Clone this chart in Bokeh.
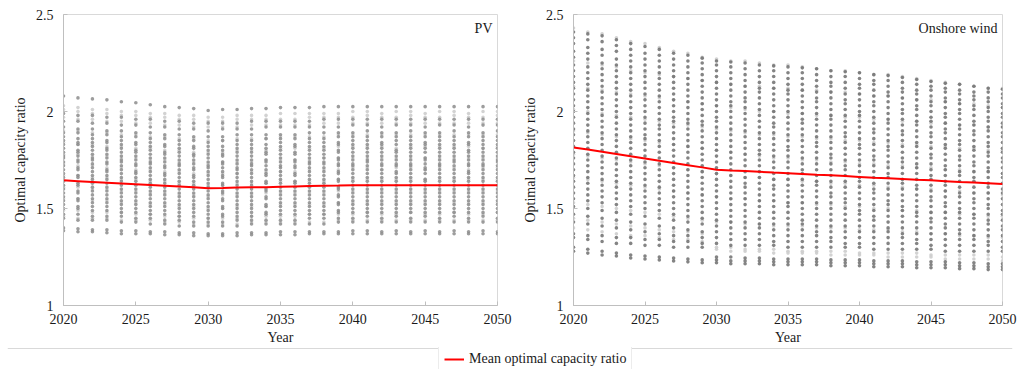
from bokeh.plotting import figure
from bokeh.models import Range1d, FixedTicker, Label, Span, Legend, LegendItem, ColumnDataSource
from bokeh.layouts import column, row
from bokeh.embed import file_html
from bokeh.resources import INLINE

# ---------------------------------------------------------------- data
years = list(range(2020, 2051))
year_ticks = [2020, 2025, 2030, 2035, 2040, 2045, 2050]
ratio_ticks = [1, 1.5, 2, 2.5]
ratio_tick_labels = ["1", "1.5", "2", "2.5"]

# Mean optimal capacity ratio per year
pv_mean = [1.645, 1.641, 1.637, 1.633, 1.629, 1.625, 1.621, 1.617, 1.613, 1.609,
           1.605, 1.606, 1.608, 1.609, 1.610, 1.612, 1.614, 1.616, 1.617, 1.618,
           1.620, 1.620, 1.620, 1.620, 1.620, 1.620, 1.620, 1.620, 1.620, 1.620, 1.620]
wind_mean = [1.815, 1.804, 1.792, 1.781, 1.769, 1.758, 1.746, 1.735, 1.723, 1.712,
             1.700, 1.696, 1.693, 1.689, 1.685, 1.682, 1.678, 1.674, 1.671, 1.667,
             1.663, 1.659, 1.656, 1.652, 1.648, 1.645, 1.641, 1.637, 1.634, 1.630, 1.626]

# Scenario results per year (dark = main scenario set, light = sensitivity runs)
pv_dark = [
    [2.08, 1.99, 1.95, 1.92, 1.89, 1.87, 1.85, 1.83, 1.81, 1.79, 1.77, 1.76, 1.74, 1.72, 1.70, 1.68, 1.66, 1.64, 1.62, 1.60, 1.58, 1.56, 1.54, 1.52, 1.50, 1.47, 1.45, 1.40, 1.385],
    [2.07, 1.98, 1.95, 1.91, 1.89, 1.86, 1.84, 1.83, 1.80, 1.79, 1.77, 1.75, 1.74, 1.71, 1.70, 1.67, 1.66, 1.63, 1.62, 1.59, 1.58, 1.55, 1.54, 1.51, 1.50, 1.47, 1.44, 1.395, 1.38],
    [2.065, 1.98, 1.94, 1.91, 1.88, 1.86, 1.84, 1.82, 1.80, 1.78, 1.76, 1.75, 1.73, 1.71, 1.69, 1.67, 1.65, 1.63, 1.61, 1.59, 1.57, 1.55, 1.53, 1.51, 1.49, 1.46, 1.44, 1.39, 1.38],
    [2.06, 1.97, 1.94, 1.90, 1.88, 1.85, 1.84, 1.81, 1.80, 1.78, 1.76, 1.74, 1.73, 1.70, 1.69, 1.67, 1.65, 1.63, 1.61, 1.59, 1.57, 1.55, 1.53, 1.51, 1.49, 1.46, 1.44, 1.39, 1.375],
    [2.05, 1.97, 1.93, 1.90, 1.87, 1.85, 1.83, 1.81, 1.79, 1.77, 1.75, 1.74, 1.72, 1.70, 1.68, 1.66, 1.64, 1.62, 1.60, 1.58, 1.56, 1.54, 1.52, 1.50, 1.48, 1.46, 1.43, 1.385, 1.37],
    [2.045, 1.96, 1.93, 1.89, 1.87, 1.84, 1.83, 1.80, 1.79, 1.77, 1.75, 1.73, 1.72, 1.69, 1.68, 1.66, 1.64, 1.62, 1.60, 1.58, 1.56, 1.54, 1.52, 1.50, 1.48, 1.45, 1.43, 1.385, 1.37],
    [2.035, 1.96, 1.92, 1.89, 1.86, 1.84, 1.82, 1.80, 1.78, 1.76, 1.74, 1.73, 1.71, 1.69, 1.67, 1.65, 1.63, 1.61, 1.59, 1.57, 1.55, 1.53, 1.51, 1.49, 1.47, 1.45, 1.42, 1.38, 1.37],
    [2.025, 1.95, 1.92, 1.88, 1.86, 1.83, 1.82, 1.79, 1.78, 1.76, 1.74, 1.72, 1.71, 1.68, 1.67, 1.65, 1.63, 1.61, 1.59, 1.57, 1.55, 1.53, 1.51, 1.49, 1.47, 1.44, 1.42, 1.38, 1.365],
    [2.02, 1.95, 1.91, 1.88, 1.85, 1.83, 1.81, 1.79, 1.77, 1.75, 1.73, 1.72, 1.70, 1.68, 1.66, 1.64, 1.62, 1.60, 1.58, 1.56, 1.54, 1.52, 1.50, 1.48, 1.46, 1.44, 1.41, 1.375, 1.365],
    [2.015, 1.94, 1.91, 1.87, 1.85, 1.82, 1.81, 1.78, 1.77, 1.75, 1.73, 1.71, 1.70, 1.67, 1.66, 1.64, 1.62, 1.60, 1.58, 1.56, 1.54, 1.52, 1.50, 1.48, 1.46, 1.43, 1.41, 1.375, 1.36],
    [2.005, 1.94, 1.90, 1.87, 1.84, 1.82, 1.80, 1.78, 1.76, 1.74, 1.72, 1.71, 1.69, 1.67, 1.65, 1.63, 1.61, 1.59, 1.57, 1.55, 1.53, 1.51, 1.49, 1.47, 1.45, 1.43, 1.41, 1.37, 1.36],
    [2.01, 1.94, 1.91, 1.87, 1.85, 1.82, 1.80, 1.78, 1.77, 1.74, 1.73, 1.71, 1.69, 1.67, 1.66, 1.63, 1.62, 1.59, 1.58, 1.55, 1.54, 1.51, 1.50, 1.47, 1.46, 1.43, 1.41, 1.37, 1.36],
    [2.01, 1.94, 1.91, 1.88, 1.85, 1.83, 1.81, 1.79, 1.77, 1.75, 1.73, 1.71, 1.70, 1.68, 1.66, 1.64, 1.62, 1.60, 1.58, 1.56, 1.54, 1.52, 1.50, 1.48, 1.46, 1.44, 1.41, 1.375, 1.36],
    [2.015, 1.95, 1.91, 1.88, 1.85, 1.83, 1.81, 1.79, 1.77, 1.75, 1.73, 1.72, 1.70, 1.68, 1.66, 1.64, 1.62, 1.60, 1.58, 1.56, 1.54, 1.52, 1.50, 1.48, 1.46, 1.44, 1.42, 1.375, 1.365],
    [2.015, 1.95, 1.92, 1.88, 1.86, 1.83, 1.81, 1.79, 1.78, 1.75, 1.74, 1.72, 1.70, 1.68, 1.67, 1.64, 1.63, 1.60, 1.59, 1.56, 1.55, 1.52, 1.51, 1.48, 1.47, 1.44, 1.42, 1.375, 1.365],
    [2.02, 1.95, 1.92, 1.88, 1.86, 1.84, 1.82, 1.80, 1.78, 1.76, 1.74, 1.72, 1.71, 1.69, 1.67, 1.65, 1.63, 1.61, 1.59, 1.57, 1.55, 1.53, 1.51, 1.49, 1.47, 1.44, 1.42, 1.38, 1.365],
    [2.02, 1.95, 1.92, 1.88, 1.86, 1.83, 1.82, 1.79, 1.78, 1.75, 1.74, 1.72, 1.71, 1.68, 1.67, 1.64, 1.63, 1.61, 1.59, 1.57, 1.55, 1.53, 1.51, 1.49, 1.47, 1.44, 1.42, 1.38, 1.365],
    [2.02, 1.95, 1.92, 1.89, 1.86, 1.84, 1.82, 1.80, 1.78, 1.76, 1.74, 1.73, 1.71, 1.69, 1.67, 1.65, 1.63, 1.61, 1.59, 1.57, 1.55, 1.53, 1.51, 1.49, 1.47, 1.45, 1.42, 1.38, 1.37],
    [2.025, 1.96, 1.92, 1.89, 1.86, 1.84, 1.82, 1.80, 1.78, 1.76, 1.74, 1.73, 1.71, 1.69, 1.67, 1.65, 1.63, 1.61, 1.59, 1.57, 1.55, 1.53, 1.51, 1.49, 1.47, 1.45, 1.42, 1.38, 1.37],
    [2.025, 1.96, 1.92, 1.89, 1.87, 1.84, 1.83, 1.80, 1.79, 1.76, 1.75, 1.73, 1.72, 1.69, 1.68, 1.65, 1.64, 1.61, 1.60, 1.57, 1.56, 1.53, 1.52, 1.49, 1.48, 1.45, 1.43, 1.38, 1.37],
    [2.025, 1.96, 1.93, 1.89, 1.87, 1.85, 1.83, 1.81, 1.79, 1.77, 1.75, 1.73, 1.72, 1.70, 1.68, 1.66, 1.64, 1.62, 1.60, 1.58, 1.56, 1.54, 1.52, 1.50, 1.48, 1.45, 1.43, 1.385, 1.37],
    [2.025, 1.96, 1.93, 1.90, 1.87, 1.85, 1.83, 1.81, 1.79, 1.77, 1.75, 1.74, 1.72, 1.70, 1.68, 1.66, 1.64, 1.62, 1.60, 1.58, 1.56, 1.54, 1.52, 1.50, 1.48, 1.46, 1.43, 1.385, 1.37],
    [2.025, 1.96, 1.92, 1.89, 1.87, 1.84, 1.83, 1.81, 1.79, 1.77, 1.75, 1.73, 1.72, 1.70, 1.68, 1.66, 1.64, 1.62, 1.60, 1.58, 1.56, 1.54, 1.52, 1.50, 1.48, 1.45, 1.43, 1.38, 1.37],
    [2.025, 1.96, 1.93, 1.89, 1.87, 1.85, 1.83, 1.80, 1.79, 1.77, 1.75, 1.73, 1.72, 1.69, 1.68, 1.66, 1.64, 1.62, 1.60, 1.58, 1.56, 1.54, 1.52, 1.50, 1.48, 1.46, 1.43, 1.385, 1.37],
    [2.025, 1.96, 1.93, 1.90, 1.87, 1.85, 1.83, 1.81, 1.79, 1.77, 1.75, 1.73, 1.72, 1.70, 1.68, 1.66, 1.64, 1.62, 1.60, 1.58, 1.56, 1.54, 1.52, 1.50, 1.48, 1.45, 1.43, 1.38, 1.37],
    [2.025, 1.96, 1.92, 1.89, 1.87, 1.84, 1.83, 1.81, 1.79, 1.76, 1.75, 1.73, 1.71, 1.70, 1.68, 1.65, 1.64, 1.62, 1.60, 1.58, 1.56, 1.54, 1.52, 1.50, 1.48, 1.46, 1.43, 1.385, 1.37],
    [2.025, 1.96, 1.93, 1.89, 1.87, 1.85, 1.83, 1.81, 1.79, 1.77, 1.75, 1.73, 1.72, 1.70, 1.68, 1.66, 1.64, 1.62, 1.60, 1.58, 1.56, 1.54, 1.52, 1.50, 1.48, 1.45, 1.43, 1.38, 1.37],
    [2.025, 1.96, 1.93, 1.90, 1.87, 1.85, 1.83, 1.81, 1.79, 1.77, 1.75, 1.74, 1.72, 1.70, 1.68, 1.66, 1.64, 1.62, 1.60, 1.58, 1.56, 1.54, 1.52, 1.50, 1.48, 1.46, 1.43, 1.385, 1.37],
    [2.025, 1.96, 1.92, 1.89, 1.87, 1.84, 1.83, 1.80, 1.79, 1.77, 1.75, 1.73, 1.72, 1.69, 1.68, 1.66, 1.64, 1.62, 1.60, 1.58, 1.56, 1.54, 1.52, 1.50, 1.48, 1.45, 1.43, 1.38, 1.37],
    [2.025, 1.96, 1.93, 1.89, 1.87, 1.85, 1.83, 1.81, 1.79, 1.77, 1.75, 1.73, 1.72, 1.70, 1.68, 1.66, 1.64, 1.62, 1.60, 1.58, 1.56, 1.54, 1.52, 1.50, 1.48, 1.46, 1.43, 1.385, 1.37],
    [2.025, 1.96, 1.93, 1.90, 1.87, 1.85, 1.83, 1.81, 1.79, 1.77, 1.75, 1.74, 1.72, 1.70, 1.68, 1.66, 1.64, 1.62, 1.60, 1.58, 1.56, 1.54, 1.52, 1.50, 1.48, 1.45, 1.43, 1.38, 1.37],
]
pv_light = [
    [2.03, 2.01, 1.97, 1.90, 1.84, 1.78, 1.73, 1.67, 1.61, 1.55, 1.49, 1.46],
    [2.02, 2.00, 1.96, 1.90, 1.83, 1.78, 1.72, 1.67, 1.61, 1.55, 1.49, 1.45],
    [2.01, 1.99, 1.96, 1.89, 1.83, 1.77, 1.72, 1.66, 1.60, 1.54, 1.48, 1.45],
    [2.01, 1.99, 1.95, 1.89, 1.82, 1.77, 1.71, 1.66, 1.60, 1.54, 1.48, 1.45],
    [2.00, 1.98, 1.95, 1.88, 1.82, 1.76, 1.71, 1.65, 1.59, 1.53, 1.48, 1.44],
    [2.00, 1.98, 1.94, 1.88, 1.81, 1.76, 1.70, 1.65, 1.59, 1.53, 1.47, 1.44],
    [1.99, 1.97, 1.94, 1.87, 1.81, 1.75, 1.70, 1.64, 1.58, 1.52, 1.47, 1.44],
    [1.99, 1.97, 1.93, 1.87, 1.80, 1.75, 1.69, 1.64, 1.58, 1.52, 1.46, 1.43],
    [1.98, 1.96, 1.93, 1.86, 1.80, 1.74, 1.69, 1.63, 1.57, 1.51, 1.46, 1.43],
    [1.98, 1.96, 1.92, 1.86, 1.79, 1.74, 1.68, 1.63, 1.57, 1.51, 1.45, 1.42],
    [1.97, 1.95, 1.92, 1.85, 1.79, 1.73, 1.68, 1.62, 1.56, 1.50, 1.45, 1.42],
    [1.97, 1.95, 1.92, 1.85, 1.79, 1.74, 1.68, 1.62, 1.57, 1.50, 1.45, 1.42],
    [1.98, 1.96, 1.92, 1.86, 1.80, 1.74, 1.68, 1.63, 1.57, 1.51, 1.45, 1.42],
    [1.98, 1.96, 1.93, 1.86, 1.80, 1.74, 1.69, 1.63, 1.57, 1.51, 1.46, 1.43],
    [1.98, 1.96, 1.93, 1.86, 1.80, 1.75, 1.69, 1.63, 1.58, 1.51, 1.46, 1.43],
    [1.99, 1.96, 1.93, 1.87, 1.81, 1.75, 1.69, 1.64, 1.58, 1.52, 1.46, 1.43],
    [1.99, 1.96, 1.93, 1.87, 1.81, 1.75, 1.69, 1.64, 1.58, 1.52, 1.46, 1.43],
    [1.99, 1.97, 1.93, 1.87, 1.81, 1.75, 1.70, 1.64, 1.58, 1.52, 1.47, 1.43],
    [1.99, 1.97, 1.94, 1.87, 1.81, 1.76, 1.70, 1.64, 1.58, 1.52, 1.47, 1.43],
    [1.99, 1.97, 1.94, 1.88, 1.82, 1.76, 1.70, 1.65, 1.59, 1.53, 1.47, 1.44],
    [2.00, 1.97, 1.94, 1.88, 1.82, 1.76, 1.71, 1.65, 1.59, 1.53, 1.47, 1.44],
    [2.00, 1.98, 1.94, 1.88, 1.82, 1.76, 1.71, 1.65, 1.59, 1.53, 1.48, 1.44],
    [1.99, 1.97, 1.94, 1.88, 1.82, 1.76, 1.70, 1.65, 1.59, 1.53, 1.47, 1.44],
    [2.00, 1.97, 1.94, 1.88, 1.81, 1.76, 1.71, 1.65, 1.59, 1.53, 1.47, 1.44],
    [2.00, 1.98, 1.94, 1.88, 1.82, 1.76, 1.71, 1.65, 1.59, 1.53, 1.48, 1.44],
    [1.99, 1.97, 1.94, 1.88, 1.82, 1.76, 1.70, 1.65, 1.59, 1.53, 1.47, 1.44],
    [2.00, 1.97, 1.94, 1.88, 1.82, 1.76, 1.71, 1.65, 1.59, 1.53, 1.47, 1.44],
    [2.00, 1.98, 1.94, 1.88, 1.82, 1.76, 1.71, 1.65, 1.59, 1.53, 1.48, 1.44],
    [1.99, 1.97, 1.94, 1.88, 1.82, 1.76, 1.70, 1.65, 1.59, 1.53, 1.47, 1.44],
    [2.00, 1.97, 1.94, 1.88, 1.81, 1.76, 1.71, 1.65, 1.59, 1.53, 1.47, 1.44],
    [2.00, 1.98, 1.94, 1.88, 1.82, 1.76, 1.71, 1.65, 1.59, 1.53, 1.48, 1.44],
]

wind_dark = [
    [2.41, 2.38, 2.35, 2.31, 2.28, 2.24, 2.21, 2.18, 2.15, 2.12, 2.09, 2.06, 2.03, 2.00, 1.97, 1.94, 1.91, 1.88, 1.85, 1.82, 1.79, 1.76, 1.73, 1.70, 1.67, 1.64, 1.61, 1.58, 1.55, 1.51, 1.47, 1.43, 1.37, 1.35, 1.30, 1.28],
    [2.40, 2.37, 2.33, 2.30, 2.27, 2.23, 2.20, 2.17, 2.14, 2.11, 2.08, 2.05, 2.02, 1.99, 1.96, 1.93, 1.90, 1.87, 1.84, 1.81, 1.78, 1.75, 1.72, 1.69, 1.66, 1.63, 1.60, 1.57, 1.54, 1.50, 1.46, 1.42, 1.36, 1.34, 1.29, 1.27],
    [2.39, 2.36, 2.32, 2.29, 2.25, 2.22, 2.19, 2.16, 2.13, 2.10, 2.07, 2.04, 2.01, 1.98, 1.95, 1.92, 1.89, 1.86, 1.83, 1.80, 1.77, 1.74, 1.71, 1.68, 1.65, 1.62, 1.59, 1.56, 1.53, 1.49, 1.45, 1.41, 1.36, 1.33, 1.28, 1.26],
    [2.37, 2.34, 2.31, 2.27, 2.24, 2.21, 2.18, 2.15, 2.12, 2.09, 2.06, 2.03, 2.00, 1.97, 1.94, 1.91, 1.88, 1.85, 1.82, 1.79, 1.76, 1.73, 1.70, 1.67, 1.64, 1.61, 1.58, 1.55, 1.52, 1.48, 1.44, 1.40, 1.35, 1.32, 1.27, 1.255],
    [2.35, 2.32, 2.29, 2.26, 2.23, 2.20, 2.17, 2.14, 2.11, 2.08, 2.05, 2.02, 1.99, 1.96, 1.93, 1.90, 1.87, 1.84, 1.81, 1.78, 1.75, 1.72, 1.69, 1.66, 1.63, 1.60, 1.57, 1.54, 1.51, 1.47, 1.43, 1.39, 1.35, 1.32, 1.26, 1.245],
    [2.335, 2.30, 2.27, 2.24, 2.21, 2.18, 2.15, 2.12, 2.09, 2.06, 2.03, 2.00, 1.97, 1.94, 1.91, 1.88, 1.86, 1.83, 1.80, 1.77, 1.74, 1.71, 1.68, 1.65, 1.62, 1.59, 1.56, 1.53, 1.50, 1.46, 1.42, 1.38, 1.34, 1.31, 1.255, 1.24],
    [2.32, 2.29, 2.26, 2.23, 2.20, 2.17, 2.14, 2.11, 2.08, 2.05, 2.02, 1.99, 1.96, 1.93, 1.91, 1.88, 1.85, 1.82, 1.79, 1.76, 1.73, 1.70, 1.67, 1.64, 1.61, 1.58, 1.55, 1.52, 1.49, 1.45, 1.41, 1.37, 1.34, 1.31, 1.25, 1.235],
    [2.30, 2.27, 2.24, 2.21, 2.18, 2.15, 2.12, 2.09, 2.06, 2.03, 2.00, 1.97, 1.95, 1.92, 1.89, 1.86, 1.83, 1.80, 1.77, 1.74, 1.71, 1.68, 1.65, 1.62, 1.59, 1.56, 1.53, 1.50, 1.47, 1.44, 1.40, 1.36, 1.33, 1.30, 1.245, 1.23],
    [2.29, 2.26, 2.23, 2.20, 2.17, 2.14, 2.11, 2.08, 2.05, 2.02, 1.99, 1.96, 1.94, 1.91, 1.88, 1.85, 1.82, 1.79, 1.76, 1.73, 1.70, 1.67, 1.64, 1.61, 1.58, 1.55, 1.52, 1.49, 1.46, 1.43, 1.39, 1.36, 1.33, 1.30, 1.24, 1.225],
    [2.275, 2.25, 2.22, 2.19, 2.16, 2.13, 2.10, 2.07, 2.04, 2.01, 1.98, 1.95, 1.93, 1.90, 1.87, 1.84, 1.81, 1.78, 1.75, 1.72, 1.69, 1.66, 1.63, 1.60, 1.57, 1.54, 1.51, 1.48, 1.45, 1.42, 1.38, 1.35, 1.32, 1.30, 1.235, 1.22],
    [2.26, 2.24, 2.21, 2.18, 2.15, 2.12, 2.09, 2.06, 2.03, 2.00, 1.97, 1.95, 1.92, 1.89, 1.86, 1.83, 1.80, 1.77, 1.74, 1.71, 1.68, 1.65, 1.62, 1.59, 1.56, 1.53, 1.50, 1.47, 1.44, 1.41, 1.38, 1.35, 1.32, 1.25, 1.235, 1.22],
    [2.255, 2.23, 2.20, 2.17, 2.14, 2.11, 2.08, 2.05, 2.03, 2.00, 1.97, 1.94, 1.91, 1.88, 1.85, 1.82, 1.79, 1.76, 1.73, 1.70, 1.67, 1.64, 1.61, 1.58, 1.55, 1.52, 1.49, 1.46, 1.43, 1.40, 1.37, 1.34, 1.31, 1.25, 1.23, 1.215],
    [2.25, 2.22, 2.19, 2.16, 2.13, 2.10, 2.07, 2.05, 2.02, 1.99, 1.96, 1.93, 1.90, 1.87, 1.84, 1.81, 1.78, 1.75, 1.72, 1.69, 1.66, 1.63, 1.61, 1.58, 1.55, 1.52, 1.49, 1.46, 1.43, 1.40, 1.37, 1.34, 1.31, 1.245, 1.23, 1.215],
    [2.24, 2.21, 2.18, 2.15, 2.12, 2.10, 2.07, 2.04, 2.01, 1.98, 1.95, 1.92, 1.89, 1.86, 1.83, 1.80, 1.78, 1.75, 1.72, 1.69, 1.66, 1.63, 1.60, 1.57, 1.54, 1.51, 1.48, 1.45, 1.42, 1.40, 1.37, 1.34, 1.31, 1.245, 1.23, 1.215],
    [2.235, 2.21, 2.18, 2.15, 2.12, 2.09, 2.06, 2.03, 2.00, 1.97, 1.94, 1.92, 1.89, 1.86, 1.83, 1.80, 1.77, 1.74, 1.71, 1.68, 1.65, 1.62, 1.60, 1.57, 1.54, 1.51, 1.48, 1.45, 1.42, 1.39, 1.36, 1.33, 1.31, 1.24, 1.225, 1.21],
    [2.23, 2.20, 2.17, 2.14, 2.11, 2.09, 2.06, 2.03, 2.00, 1.97, 1.94, 1.91, 1.88, 1.85, 1.82, 1.80, 1.77, 1.74, 1.71, 1.68, 1.65, 1.62, 1.59, 1.56, 1.53, 1.51, 1.48, 1.45, 1.42, 1.39, 1.36, 1.33, 1.30, 1.24, 1.225, 1.21],
    [2.225, 2.20, 2.17, 2.14, 2.11, 2.08, 2.05, 2.02, 1.99, 1.96, 1.94, 1.91, 1.88, 1.85, 1.82, 1.79, 1.76, 1.73, 1.70, 1.68, 1.65, 1.62, 1.59, 1.56, 1.53, 1.50, 1.47, 1.44, 1.42, 1.39, 1.36, 1.33, 1.30, 1.24, 1.225, 1.21],
    [2.22, 2.19, 2.16, 2.13, 2.10, 2.07, 2.05, 2.02, 1.99, 1.96, 1.93, 1.90, 1.87, 1.84, 1.82, 1.79, 1.76, 1.73, 1.70, 1.67, 1.64, 1.62, 1.59, 1.56, 1.53, 1.50, 1.47, 1.44, 1.41, 1.38, 1.36, 1.33, 1.30, 1.24, 1.225, 1.21],
    [2.21, 2.18, 2.15, 2.13, 2.10, 2.07, 2.04, 2.01, 1.98, 1.96, 1.93, 1.90, 1.87, 1.84, 1.81, 1.78, 1.76, 1.73, 1.70, 1.67, 1.64, 1.61, 1.58, 1.56, 1.53, 1.50, 1.47, 1.44, 1.41, 1.38, 1.35, 1.33, 1.30, 1.235, 1.22, 1.205],
    [2.205, 2.18, 2.15, 2.12, 2.09, 2.06, 2.04, 2.01, 1.98, 1.95, 1.92, 1.89, 1.87, 1.84, 1.81, 1.78, 1.75, 1.72, 1.70, 1.67, 1.64, 1.61, 1.58, 1.55, 1.53, 1.50, 1.47, 1.44, 1.41, 1.38, 1.35, 1.32, 1.30, 1.235, 1.22, 1.205],
    [2.20, 2.17, 2.14, 2.12, 2.09, 2.06, 2.03, 2.00, 1.98, 1.95, 1.92, 1.89, 1.86, 1.83, 1.81, 1.78, 1.75, 1.72, 1.69, 1.66, 1.64, 1.61, 1.58, 1.55, 1.52, 1.49, 1.47, 1.44, 1.41, 1.38, 1.35, 1.32, 1.30, 1.235, 1.22, 1.205],
    [2.19, 2.16, 2.14, 2.11, 2.08, 2.05, 2.03, 2.00, 1.97, 1.94, 1.91, 1.89, 1.86, 1.83, 1.80, 1.77, 1.75, 1.72, 1.69, 1.66, 1.63, 1.60, 1.58, 1.55, 1.52, 1.49, 1.46, 1.44, 1.41, 1.38, 1.35, 1.32, 1.29, 1.23, 1.215, 1.20],
    [2.185, 2.16, 2.13, 2.10, 2.08, 2.05, 2.02, 1.99, 1.96, 1.94, 1.91, 1.88, 1.85, 1.82, 1.80, 1.77, 1.74, 1.71, 1.68, 1.66, 1.63, 1.60, 1.57, 1.54, 1.52, 1.49, 1.46, 1.43, 1.40, 1.38, 1.35, 1.32, 1.29, 1.23, 1.215, 1.20],
    [2.175, 2.15, 2.12, 2.10, 2.07, 2.04, 2.01, 1.99, 1.96, 1.93, 1.90, 1.88, 1.85, 1.82, 1.79, 1.76, 1.74, 1.71, 1.68, 1.65, 1.63, 1.60, 1.57, 1.54, 1.51, 1.49, 1.46, 1.43, 1.40, 1.37, 1.35, 1.32, 1.29, 1.23, 1.215, 1.20],
    [2.165, 2.14, 2.11, 2.09, 2.06, 2.03, 2.01, 1.98, 1.95, 1.93, 1.90, 1.87, 1.84, 1.82, 1.79, 1.76, 1.73, 1.71, 1.68, 1.65, 1.62, 1.60, 1.57, 1.54, 1.51, 1.48, 1.46, 1.43, 1.40, 1.37, 1.34, 1.32, 1.29, 1.225, 1.21, 1.195],
    [2.155, 2.13, 2.11, 2.08, 2.05, 2.03, 2.00, 1.97, 1.95, 1.92, 1.89, 1.87, 1.84, 1.81, 1.78, 1.76, 1.73, 1.70, 1.67, 1.65, 1.62, 1.59, 1.56, 1.54, 1.51, 1.48, 1.45, 1.43, 1.40, 1.37, 1.34, 1.31, 1.29, 1.225, 1.21, 1.195],
    [2.145, 2.12, 2.10, 2.07, 2.05, 2.02, 1.99, 1.97, 1.94, 1.91, 1.89, 1.86, 1.83, 1.81, 1.78, 1.75, 1.72, 1.70, 1.67, 1.64, 1.62, 1.59, 1.56, 1.53, 1.51, 1.48, 1.45, 1.42, 1.40, 1.37, 1.34, 1.31, 1.28, 1.225, 1.21, 1.195],
    [2.14, 2.11, 2.09, 2.06, 2.04, 2.01, 1.99, 1.96, 1.93, 1.91, 1.88, 1.85, 1.83, 1.80, 1.77, 1.75, 1.72, 1.69, 1.67, 1.64, 1.61, 1.58, 1.56, 1.53, 1.50, 1.48, 1.45, 1.42, 1.39, 1.37, 1.34, 1.31, 1.28, 1.22, 1.205, 1.19],
    [2.13, 2.10, 2.08, 2.06, 2.03, 2.01, 1.98, 1.95, 1.93, 1.90, 1.88, 1.85, 1.82, 1.80, 1.77, 1.74, 1.72, 1.69, 1.66, 1.64, 1.61, 1.58, 1.55, 1.53, 1.50, 1.47, 1.45, 1.42, 1.39, 1.36, 1.34, 1.31, 1.28, 1.22, 1.205, 1.19],
    [2.12, 2.10, 2.07, 2.05, 2.02, 2.00, 1.97, 1.95, 1.92, 1.90, 1.87, 1.84, 1.82, 1.79, 1.77, 1.74, 1.71, 1.69, 1.66, 1.63, 1.61, 1.58, 1.55, 1.52, 1.50, 1.47, 1.44, 1.42, 1.39, 1.36, 1.33, 1.31, 1.28, 1.215, 1.20, 1.185],
    [2.115, 2.09, 2.07, 2.04, 2.02, 1.99, 1.97, 1.94, 1.92, 1.89, 1.87, 1.84, 1.81, 1.79, 1.76, 1.74, 1.71, 1.68, 1.66, 1.63, 1.60, 1.58, 1.55, 1.52, 1.49, 1.47, 1.44, 1.41, 1.39, 1.36, 1.33, 1.30, 1.28, 1.215, 1.20, 1.185],
]
wind_light = [
    [2.43, 2.26, 2.13, 2.01, 1.90, 1.78, 1.66, 1.53, 1.45, 1.40],
    [2.41, 2.25, 2.12, 2.00, 1.89, 1.77, 1.65, 1.52, 1.44, 1.39],
    [2.40, 2.24, 2.11, 1.99, 1.88, 1.76, 1.64, 1.51, 1.43, 1.38],
    [2.38, 2.23, 2.10, 1.98, 1.87, 1.75, 1.63, 1.50, 1.42, 1.37],
    [2.36, 2.21, 2.09, 1.97, 1.86, 1.74, 1.62, 1.49, 1.41, 1.36],
    [2.35, 2.20, 2.08, 1.96, 1.85, 1.73, 1.61, 1.48, 1.40, 1.36],
    [2.33, 2.19, 2.07, 1.95, 1.84, 1.72, 1.60, 1.47, 1.39, 1.35],
    [2.31, 2.18, 2.06, 1.94, 1.83, 1.71, 1.59, 1.46, 1.38, 1.34],
    [2.30, 2.17, 2.05, 1.93, 1.82, 1.70, 1.58, 1.45, 1.38, 1.34],
    [2.28, 2.16, 2.04, 1.92, 1.81, 1.69, 1.57, 1.44, 1.37, 1.33],
    [2.27, 2.15, 2.03, 1.91, 1.80, 1.68, 1.56, 1.43, 1.30, 1.29],
    [2.26, 2.14, 2.02, 1.90, 1.79, 1.67, 1.55, 1.43, 1.30, 1.28],
    [2.26, 2.13, 2.01, 1.89, 1.78, 1.66, 1.55, 1.42, 1.29, 1.28],
    [2.25, 2.13, 2.00, 1.88, 1.77, 1.66, 1.54, 1.42, 1.29, 1.28],
    [2.24, 2.12, 2.00, 1.88, 1.76, 1.65, 1.54, 1.41, 1.29, 1.27],
    [2.24, 2.12, 1.99, 1.87, 1.76, 1.65, 1.53, 1.41, 1.28, 1.27],
    [2.23, 2.11, 1.99, 1.87, 1.75, 1.64, 1.53, 1.41, 1.28, 1.27],
    [2.22, 2.11, 1.98, 1.86, 1.75, 1.64, 1.52, 1.40, 1.28, 1.27],
    [2.21, 2.10, 1.98, 1.86, 1.74, 1.63, 1.52, 1.40, 1.28, 1.26],
    [2.21, 2.10, 1.97, 1.85, 1.74, 1.63, 1.51, 1.40, 1.28, 1.26],
    [2.20, 2.09, 1.97, 1.85, 1.73, 1.62, 1.51, 1.39, 1.27, 1.26],
    [2.19, 2.08, 1.96, 1.84, 1.73, 1.62, 1.50, 1.39, 1.27, 1.26],
    [2.19, 2.08, 1.96, 1.84, 1.72, 1.61, 1.50, 1.39, 1.27, 1.25],
    [2.18, 2.07, 1.95, 1.83, 1.72, 1.61, 1.49, 1.38, 1.27, 1.25],
    [2.17, 2.06, 1.95, 1.83, 1.71, 1.60, 1.49, 1.38, 1.27, 1.25],
    [2.16, 2.06, 1.94, 1.82, 1.71, 1.60, 1.48, 1.37, 1.26, 1.25],
    [2.15, 2.05, 1.94, 1.82, 1.70, 1.59, 1.48, 1.37, 1.26, 1.24],
    [2.14, 2.04, 1.93, 1.81, 1.70, 1.59, 1.47, 1.36, 1.26, 1.24],
    [2.13, 2.04, 1.93, 1.81, 1.69, 1.58, 1.47, 1.36, 1.26, 1.24],
    [2.12, 2.03, 1.92, 1.80, 1.69, 1.58, 1.46, 1.35, 1.26, 1.24],
    [2.12, 2.02, 1.92, 1.80, 1.68, 1.57, 1.46, 1.35, 1.25, 1.23],
]

# ---------------------------------------------------------------- styling
SERIF = "Liberation Serif"
TEXT = "#1a1a1a"
FONT_SIZE = "14px"


def flatten(year_list, groups):
    xs, ys = [], []
    for yr, vals in zip(year_list, groups):
        xs.extend([yr] * len(vals))
        ys.extend(vals)
    return ColumnDataSource(data=dict(year=xs, ratio=ys))


def panel(name, dark, light, mean, width, left, right, dark_color):
    p = figure(width=width, height=347,
               x_range=Range1d(2020, 2050), y_range=Range1d(1, 2.5),
               output_backend="svg", toolbar_location=None,
               min_border_left=left, min_border_right=right,
               min_border_top=14, min_border_bottom=40)
    p.background_fill_color = "white"
    p.border_fill_color = "white"
    p.outline_line_color = "#d9d9d9"
    p.xgrid.visible = False
    p.ygrid.visible = False

    p.scatter("year", "ratio", source=flatten(years, light), size=3.6,
              fill_color="#cdcdcd", line_color=None, fill_alpha=0.9)
    p.scatter("year", "ratio", source=flatten(years, dark), size=3.6,
              fill_color=dark_color, line_color=None, fill_alpha=0.85)
    p.line(years, mean, line_color="#ff0000", line_width=2)

    p.xaxis.ticker = FixedTicker(ticks=year_ticks)
    p.yaxis.ticker = FixedTicker(ticks=ratio_ticks)
    p.yaxis.major_label_overrides = dict(zip(ratio_ticks, ratio_tick_labels))
    p.xaxis.axis_label = "Year"
    p.yaxis.axis_label = "Optimal capacity ratio"
    for ax in (p.xaxis, p.yaxis):
        ax.axis_line_color = "#bfbfbf"
        ax.major_tick_line_color = "#bfbfbf"
        ax.major_tick_in = 4
        ax.major_tick_out = 0
        ax.minor_tick_line_color = None
        ax.major_label_text_font = SERIF
        ax.major_label_text_font_size = FONT_SIZE
        ax.major_label_text_color = TEXT
        ax.axis_label_text_font = SERIF
        ax.axis_label_text_font_size = FONT_SIZE
        ax.axis_label_text_font_style = "normal"
        ax.axis_label_text_color = TEXT
    p.yaxis.major_label_standoff = 10
    p.yaxis.axis_label_standoff = 5
    p.xaxis.major_label_standoff = 8
    p.xaxis.axis_label_standoff = 3

    p.add_layout(Label(x=2050, y=2.5, text=name, x_offset=-5, y_offset=-6,
                       text_align="right", text_baseline="top",
                       text_font=SERIF, text_font_size=FONT_SIZE, text_color=TEXT))
    return p


p_pv = panel("PV", pv_dark, pv_light, pv_mean, 512, 63, 15, "#8c8c8c")
p_wind = panel("Onshore wind", wind_dark, wind_light, wind_mean, 507, 61, 17, "#6e6e6e")

# ---------------------------------------------------------------- shared legend strip
strip = figure(width=1019, height=22, x_range=Range1d(7, 1012), y_range=Range1d(0, 22),
               output_backend="svg", toolbar_location=None,
               min_border_left=7, min_border_right=7, min_border_top=0, min_border_bottom=0)
strip.axis.visible = False
strip.xgrid.visible = False
strip.ygrid.visible = False
strip.outline_line_color = None
strip.add_layout(Span(location=21, dimension="width", line_color="#d9d9d9", line_width=1))
# the mean series sits outside this strip's ranges; it only supplies the legend swatch
key = strip.line(years, wind_mean, line_color="#ff0000", line_width=2)
legend = Legend(items=[LegendItem(label="Mean optimal capacity ratio", renderers=[key])],
                location=(431, -4), orientation="horizontal",
                border_line_color="#d9d9d9", background_fill_color="white",
                background_fill_alpha=1.0, padding=5, margin=0, spacing=0,
                glyph_width=20, glyph_height=16, label_standoff=5,
                label_text_font=SERIF, label_text_font_size=FONT_SIZE,
                label_text_color=TEXT)
strip.add_layout(legend, "center")

page = column(row(p_pv, p_wind), strip)
open("out.html", "w").write(file_html(page, INLINE))
